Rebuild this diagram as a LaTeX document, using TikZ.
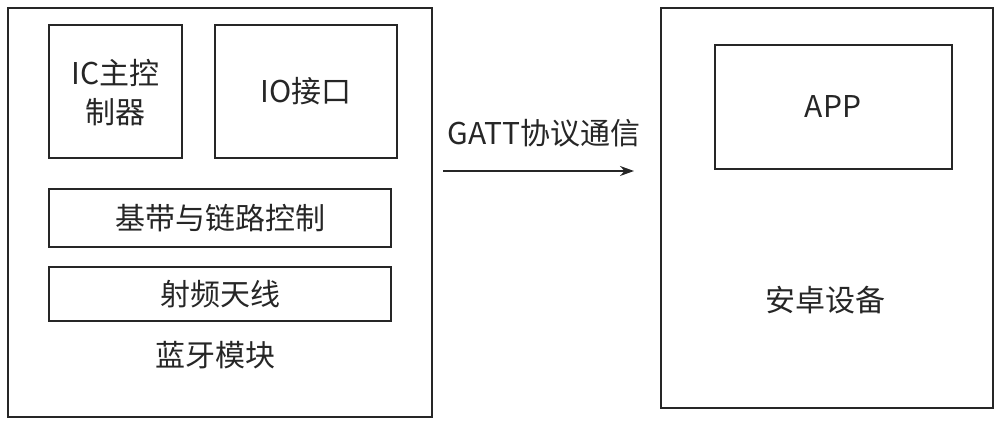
\documentclass[tikz,border=0pt]{standalone}
\usepackage{fontspec}
\setmainfont{Noto Sans CJK SC}
\usetikzlibrary{arrows.meta}
\begin{document}
\begin{tikzpicture}[x=0.5pt,y=-0.5pt,
  box/.style={draw=black!85,line width=0.8pt},
  lbl/.style={font=\fontsize{15pt}{19.5pt}\selectfont,text=black!85,inner sep=0pt,align=center}]
\useasboundingbox (0,0) rectangle (1000,426);
% left module
\draw[box] (8,8) rectangle (432,417);
\draw[box] (49,25) rectangle (182,158);
\node[lbl] (ic) at (115.5,93) {IC主控\\制器};
\draw[box] (215,25) rectangle (397,158);
\node[lbl] (io) at (306,91.5) {IO接口};
\draw[box] (49,189) rectangle (391,247);
\node[lbl] (bb) at (220,218) {基带与链路控制};
\draw[box] (49,267) rectangle (391,321);
\node[lbl] (rf) at (220,294) {射频天线};
\node[lbl] (bt) at (215,355) {蓝牙模块};
% right device
\draw[box] (661,8) rectangle (993,408);
\draw[box] (715,45) rectangle (952,169);
\node[lbl] (app) at (833,107) {APP};
\node[lbl] (android) at (825,300) {安卓设备};
% arrow
\coordinate (a1) at (443,171);
\coordinate (a2) at (634,171);
\draw[line width=0.8pt,draw=black!85,-{Stealth[length=7pt,width=5pt]}] (a1) -- (a2);
\node[lbl] (gatt) at (544,133) {GATT协议通信};
\end{tikzpicture}
\end{document}
